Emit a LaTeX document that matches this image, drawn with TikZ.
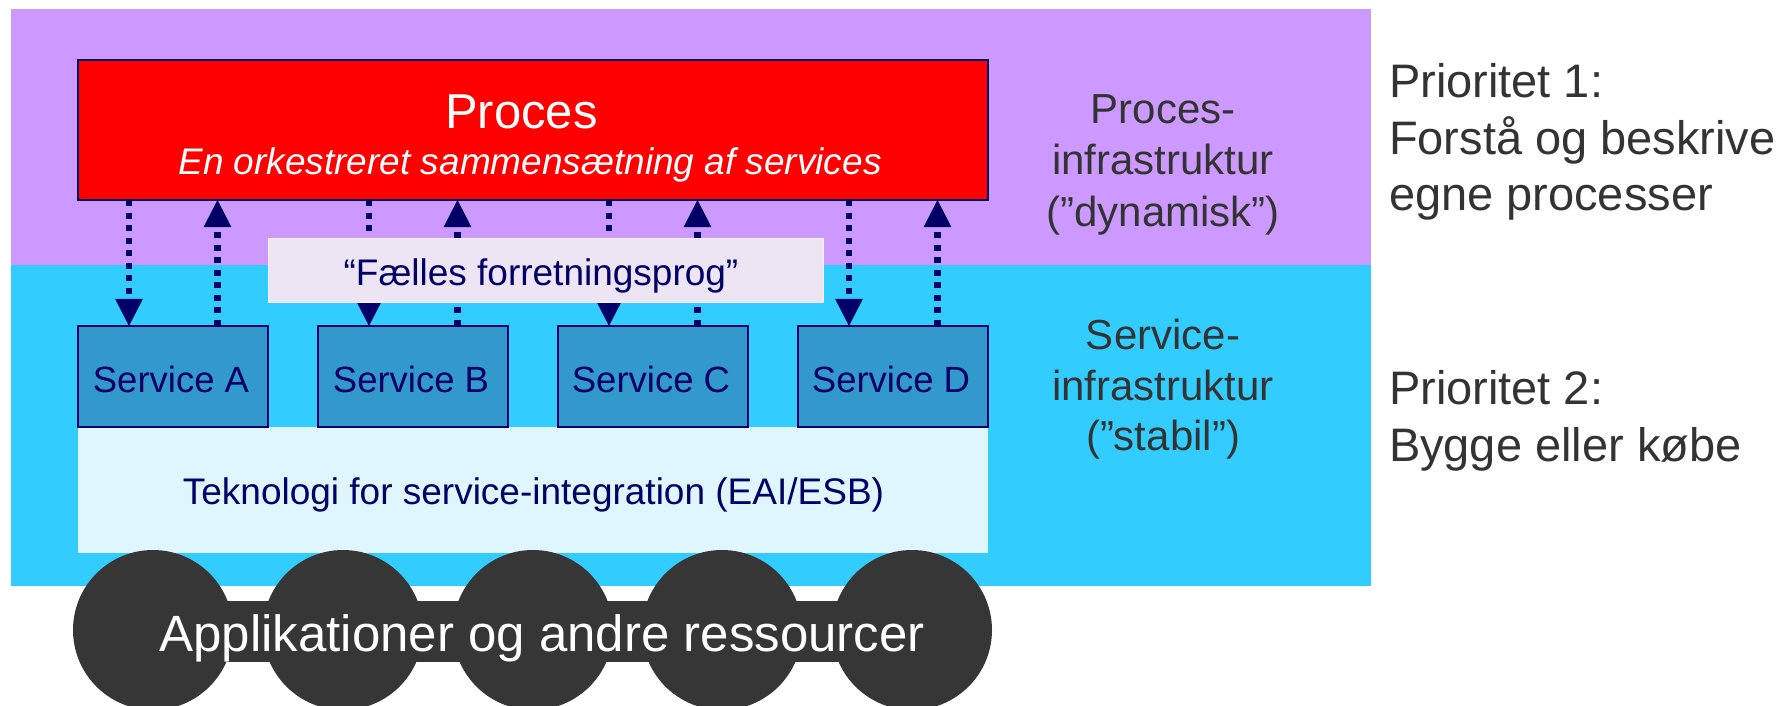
\documentclass[tikz,border=0pt]{standalone}
\usepackage{fontspec}
\setmainfont{Liberation Sans}
\usetikzlibrary{arrows.meta}

\definecolor{lilac}{HTML}{CC99FF}
\definecolor{sky}{HTML}{33CCFF}
\definecolor{navy}{HTML}{000066}
\definecolor{svcblue}{HTML}{3399CC}
\definecolor{paleblue}{HTML}{E0F6FE}
\definecolor{palelilac}{HTML}{EDE4F4}
\definecolor{charcoal}{HTML}{363636}
\definecolor{ink}{HTML}{333333}

\newcommand\fsz[1]{\fontsize{#1}{#1}\selectfont}
\pgfdeclarelayer{back}
\pgfsetlayers{back,main}

\begin{document}
\begin{tikzpicture}[x=1pt,y=-1pt,
  every node/.style={inner sep=0pt,outer sep=0pt},
  boxed/.style={draw=navy,line width=2pt,rectangle},
  svcbox/.style={boxed,fill=svcblue,minimum width=190pt,minimum height=100.7pt},
  svctext/.style={anchor=base,text=navy,font=\fsz{36.5}},
  sidetext/.style={anchor=base,text=ink,font=\fsz{42}},
  prio/.style={anchor=base west,text=ink,font=\fsz{47}},
  res/.style={circle,fill=charcoal,minimum size=160pt},
  flow/.style={navy,line width=6.5pt,dash pattern=on 6pt off 6.5pt,
    -{Triangle[width=27.5pt,length=27pt,line width=1pt]}}]
\useasboundingbox (0,0) rectangle (1789,706);

% two infrastructure bands
\begin{pgfonlayer}{back}
  \fill[lilac] (11,9) rectangle (1371,265);
  \fill[sky] (11,265) rectangle (1371,585.7);
\end{pgfonlayer}

% process box
\node[boxed,fill=red,minimum width=910pt,minimum height=140pt] (proc) at (533,130) {};
\node[anchor=base,text=white,font=\fsz{49}] (proct) at (521.5,128.3) {Proces};
\node[anchor=base,text=white,font=\fsz{37}\itshape] (procs) at (530,175)
  {En orkestreret sammensætning af services};

% integration layer and services
\node[fill=paleblue,minimum width=910pt,minimum height=126pt] (tek) at (533,490) {};
\node[anchor=base,text=navy,font=\fsz{37}] (tekt) at (533.5,504)
  {Teknologi for service-integration (EAI/ESB)};

\node[svcbox] (sa) at (173,376.3) {};
\node[svcbox] (sb) at (413,376.3) {};
\node[svcbox] (sc) at (653,376.3) {};
\node[svcbox] (sd) at (893,376.3) {};
\node[svctext] (sat) at (171,392) {Service A};
\node[svctext] (sbt) at (411,392) {Service B};
\node[svctext] (sct) at (651,392) {Service C};
\node[svctext] (sdt) at (891,392) {Service D};

% request / response arrows between process and services
\begin{pgfonlayer}{back}
\foreach \s in {sa,sb,sc,sd}{
  \draw[flow] ([xshift=51pt]\s.north west |- proc.south) -- ([xshift=51pt]\s.north west);
  \draw[flow] ([xshift=139.5pt]\s.north west) -- ([xshift=139.5pt]\s.north west |- proc.south);
}
\end{pgfonlayer}

% shared business language
\node[fill=palelilac,draw=palelilac!60!white,line width=1pt,
  minimum width=555pt,minimum height=64pt] (lang) at (545.5,270) {};
\node[anchor=base,text=navy,font=\fsz{37}] (langt) at (541,285.5)
  {“Fælles forretningsprog”};

% applications and resources
\foreach \i [count=\k] in {153,343,533,722,912}
  \node[res] (r\k) at (\i,630) {};
\node[fill=charcoal,minimum width=759pt,minimum height=61pt] (bar) at (532.5,631.5) {};
\node[anchor=base,text=white,font=\fsz{51}] (bart) at (542,651.7)
  {Applikationer og andre ressourcer};

% band captions
\node[sidetext] (p1) at (1163,124) {Proces-};
\node[sidetext] (p2) at (1163,175) {infrastruktur};
\node[sidetext] (p3) at (1163,226.5) {(”dynamisk”)};
\node[sidetext] (s1) at (1163,349) {Service-};
\node[sidetext] (s2) at (1163,400) {infrastruktur};
\node[sidetext] (s3) at (1163,450.5) {(”stabil”)};

% priorities
\node[prio] (q1) at (1389,98) {Prioritet 1:};
\node[prio] (q2) at (1389,154.5) {Forstå og beskrive};
\node[prio] (q3) at (1389,211) {egne processer};
\node[prio] (q4) at (1389,404) {Prioritet 2:};
\node[prio] (q5) at (1389,461) {Bygge eller købe};
\end{tikzpicture}
\end{document}
